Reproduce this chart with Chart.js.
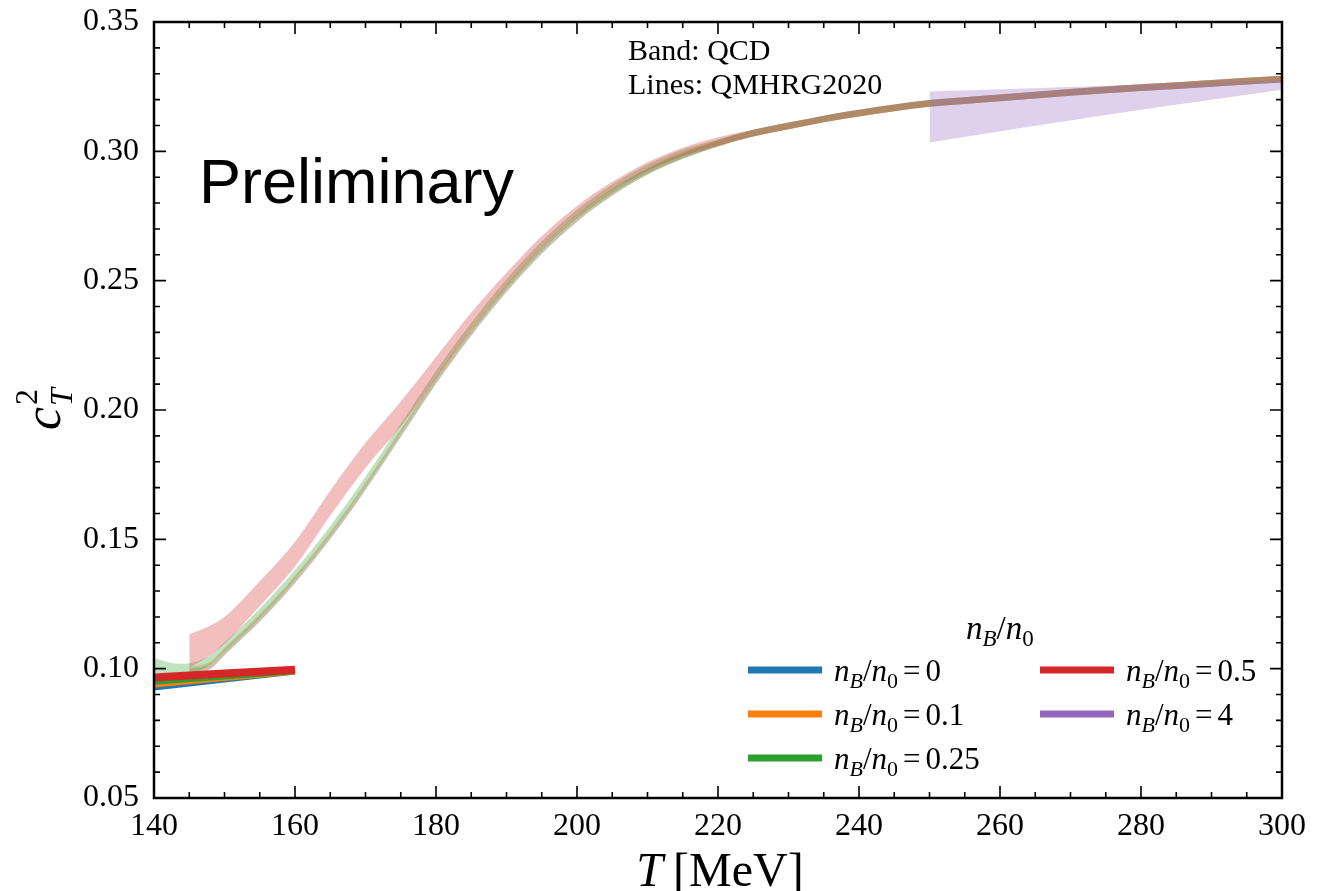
<!DOCTYPE html>
<html>
<head>
<meta charset="utf-8">
<script src="https://cdn.jsdelivr.net/npm/chart.js@4/dist/chart.umd.min.js"></script>
<style>
  html, body { margin: 0; padding: 0; background: #fff; }
  #wrap { width: 1326px; height: 891px; }
</style>
</head>
<body>
<div id="wrap"><canvas id="grafico" width="1326" height="891"></canvas></div>
<script>
// Bandas QCD (limite inferior / superior) e linhas QMHRG2020
const T_GREEN = [140, 142, 144, 146, 148, 150, 155, 160, 165, 170, 175, 180, 185, 190, 195, 200, 205, 210, 215, 220, 225, 230, 235, 240, 245, 250, 260, 270, 280, 290, 300];
const GREEN_LO = [0.0985, 0.0975, 0.0975, 0.0987, 0.1017, 0.1068, 0.1198, 0.1348, 0.1518, 0.1708, 0.1913, 0.2118, 0.2303, 0.2471, 0.2618, 0.2740, 0.2838, 0.2915, 0.2973, 0.3020, 0.3057, 0.3085, 0.3112, 0.3135, 0.3155, 0.3172, 0.3194, 0.3215, 0.3233, 0.3250, 0.3266];
const GREEN_HI = [0.1041, 0.1025, 0.1019, 0.1027, 0.1053, 0.1102, 0.1232, 0.1382, 0.1552, 0.1742, 0.1947, 0.2152, 0.2337, 0.2505, 0.2652, 0.2774, 0.2872, 0.2949, 0.3007, 0.3046, 0.3083, 0.3111, 0.3138, 0.3161, 0.3181, 0.3198, 0.3220, 0.3241, 0.3259, 0.3276, 0.3292];

const T_REST = [145, 148, 150, 155, 160, 165, 170, 175, 180, 185, 190, 195, 200, 205, 210, 215, 220, 225, 230, 235, 240, 245, 250, 260, 270, 280, 290, 300];
const BLUE_LO = [0.0977, 0.0998, 0.1051, 0.1181, 0.1330, 0.1500, 0.1690, 0.1895, 0.2100, 0.2286, 0.2455, 0.2603, 0.2727, 0.2828, 0.2909, 0.2971, 0.3019, 0.3057, 0.3085, 0.3112, 0.3135, 0.3155, 0.3172, 0.3194, 0.3215, 0.3233, 0.3250, 0.3266];
const BLUE_HI = [0.0999, 0.1020, 0.1073, 0.1203, 0.1352, 0.1522, 0.1712, 0.1917, 0.2122, 0.2308, 0.2477, 0.2625, 0.2749, 0.2850, 0.2931, 0.2993, 0.3041, 0.3083, 0.3111, 0.3138, 0.3161, 0.3181, 0.3198, 0.3220, 0.3241, 0.3259, 0.3276, 0.3292];
const ORANGE_LO = [0.0980, 0.1002, 0.1055, 0.1185, 0.1334, 0.1504, 0.1694, 0.1899, 0.2104, 0.2290, 0.2459, 0.2607, 0.2730, 0.2830, 0.2910, 0.2971, 0.3018, 0.3057, 0.3085, 0.3112, 0.3135, 0.3155, 0.3172, 0.3194, 0.3215, 0.3233, 0.3250, 0.3266];
const ORANGE_HI = [0.1006, 0.1028, 0.1081, 0.1211, 0.1360, 0.1530, 0.1720, 0.1925, 0.2130, 0.2316, 0.2485, 0.2633, 0.2756, 0.2856, 0.2936, 0.2997, 0.3044, 0.3083, 0.3111, 0.3138, 0.3161, 0.3181, 0.3198, 0.3220, 0.3241, 0.3259, 0.3276, 0.3292];
const RED_LO = [0.1003, 0.1053, 0.1096, 0.1242, 0.1395, 0.1592, 0.1777, 0.1937, 0.2125, 0.2313, 0.2479, 0.2628, 0.2751, 0.2850, 0.2926, 0.2982, 0.3022, 0.3057, 0.3085, 0.3112, 0.3135, 0.3155, 0.3172, 0.3194, 0.3215, 0.3233, 0.3250, 0.3266];
const RED_HI = [0.1133, 0.1167, 0.1200, 0.1338, 0.1491, 0.1688, 0.1873, 0.2033, 0.2205, 0.2377, 0.2531, 0.2672, 0.2789, 0.2882, 0.2958, 0.3014, 0.3054, 0.3083, 0.3111, 0.3138, 0.3161, 0.3181, 0.3198, 0.3220, 0.3241, 0.3259, 0.3276, 0.3292];

const T_PURPLE = [250, 275, 300];
const PURPLE_LO = [0.3034, 0.3140, 0.3238];
const PURPLE_HI = [0.3231, 0.3254, 0.3277];

const T_LINE = [140, 150, 160];
const LINE_BLUE = [0.0925, 0.0956, 0.0987];
const LINE_ORANGE = [0.0937, 0.0962, 0.0987];
const LINE_GREEN = [0.0947, 0.0968, 0.0988];
const LINE_RED = [0.0966, 0.0981, 0.0996];

const X_TICKS = [140, 160, 180, 200, 220, 240, 260, 280, 300];
const Y_TICKS = [0.05, 0.10, 0.15, 0.20, 0.25, 0.30, 0.35];
const LEGEND_VALUES = ['0', '0.1', '0.25', '0.5', '4'];

const COR = {
  blue: '#1f77b4', orange: '#ff7f0e', green: '#2ca02c', red: '#d62728', purple: '#9467bd'
};
const SERIF = '"Liberation Serif", "DejaVu Serif", serif';

const pts = (xs, ys) => xs.map((x, i) => ({ x, y: ys[i] }));
const rgba = (hex, a) => {
  const n = parseInt(hex.slice(1), 16);
  return `rgba(${n >> 16},${(n >> 8) & 255},${n & 255},${a})`;
};

function banda(xs, lo, hi, cor) {
  const base = { pointRadius: 0, borderWidth: 0, cubicInterpolationMode: 'monotone', order: 1 };
  return [
    { ...base, data: pts(xs, lo), fill: false },
    { ...base, data: pts(xs, hi), fill: '-1', backgroundColor: rgba(cor, 0.3) }
  ];
}

function linha(ys, cor, largura) {
  return {
    data: pts(T_LINE, ys), borderColor: cor, borderWidth: largura, pointRadius: 0,
    fill: false, order: 0, borderCapStyle: 'butt', tension: 0
  };
}

// texto com indices (subscrito / sobrescrito)
function textoRico(ctx, x, y, partes) {
  let cx = x;
  partes.forEach(p => {
    ctx.font = p.f;
    ctx.fillText(p.t, cx, y + (p.dy || 0));
    cx += ctx.measureText(p.t).width + (p.gap || 0);
  });
  return cx;
}

function partesNB(tam, valor) {
  const sub = Math.round(tam * 0.7);
  const partes = [
    { t: 'n', f: `italic ${tam}px ${SERIF}` }, { t: 'B', f: `italic ${sub}px ${SERIF}`, dy: 7 },
    { t: '/', f: `${tam}px ${SERIF}` },
    { t: 'n', f: `italic ${tam}px ${SERIF}` }, { t: '0', f: `${sub}px ${SERIF}`, dy: 7, gap: 5 }
  ];
  if (valor !== null) partes.push({ t: '=', f: `${tam}px ${SERIF}`, gap: 5 }, { t: valor, f: `${tam}px ${SERIF}` });
  return partes;
}

const moldura = {
  id: 'moldura',
  afterDatasetsDraw(chart) {
    const { ctx, chartArea: a, scales: { x, y } } = chart;
    ctx.save();
    ctx.strokeStyle = '#000';
    ctx.lineWidth = 1.6;
    ctx.beginPath();
    for (let t = 140; t <= 300; t += 5) {
      const px = x.getPixelForValue(t);
      const len = t % 20 === 0 ? 12 : 6;
      ctx.moveTo(px, a.bottom); ctx.lineTo(px, a.bottom - len);
      ctx.moveTo(px, a.top); ctx.lineTo(px, a.top + len);
    }
    for (let k = 5; k <= 35; k++) {
      const py = y.getPixelForValue(k / 100);
      const len = k % 5 === 0 ? 12 : 6;
      ctx.moveTo(a.left, py); ctx.lineTo(a.left + len, py);
      ctx.moveTo(a.right, py); ctx.lineTo(a.right - len, py);
    }
    ctx.stroke();
    ctx.lineWidth = 2.5;
    ctx.strokeRect(a.left, a.top, a.right - a.left, a.bottom - a.top);
    ctx.restore();
  },
  afterDraw(chart) {
    const { ctx } = chart;
    ctx.save();
    ctx.fillStyle = '#000';
    ctx.textBaseline = 'alphabetic';
    ctx.textAlign = 'left';

    ctx.font = '63px "Liberation Sans", Arial, sans-serif';
    ctx.fillText('Preliminary', 199, 203);

    ctx.font = `30px ${SERIF}`;
    ctx.fillText('Band: QCD', 628, 60);
    ctx.fillText('Lines: QMHRG2020', 628, 94);

    // titulo do eixo x
    const tituloX = [{ t: 'T', f: `italic 48px ${SERIF}`, gap: 10 }, { t: '[MeV]', f: `48px ${SERIF}` }];
    const largX = textoRico(ctx, 0, -1000, tituloX);
    textoRico(ctx, 720 - largX / 2, 886, tituloX);

    // titulo do eixo y
    ctx.save();
    ctx.translate(60, 410);
    ctx.rotate(-Math.PI / 2);
    ctx.font = `italic 52px ${SERIF}`;
    ctx.fillText('c', -20, 0);
    ctx.font = `italic 32px ${SERIF}`;
    ctx.fillText('T', 4, 12);
    ctx.font = `32px ${SERIF}`;
    ctx.fillText('2', 5, -23);
    ctx.restore();

    // legenda
    textoRico(ctx, 966, 639, partesNB(33, null));
    const entradas = [
      { cor: COR.blue, col: 0, lin: 0 }, { cor: COR.orange, col: 0, lin: 1 }, { cor: COR.green, col: 0, lin: 2 },
      { cor: COR.red, col: 1, lin: 0 }, { cor: COR.purple, col: 1, lin: 1 }
    ];
    entradas.forEach((e, i) => {
      const x0 = e.col === 0 ? 748 : 1040;
      const yl = 670 + e.lin * 44;
      ctx.fillStyle = e.cor;
      ctx.fillRect(x0, yl - 3.5, 74, 7);
      ctx.fillStyle = '#000';
      textoRico(ctx, x0 + 86, yl + 11, partesNB(31, LEGEND_VALUES[i]));
    });
    ctx.restore();
  }
};

const datasets = [
  linha(LINE_RED, COR.red, 8),
  linha(LINE_GREEN, COR.green, 5),
  linha(LINE_ORANGE, COR.orange, 5),
  linha(LINE_BLUE, COR.blue, 5),
  ...banda(T_PURPLE, PURPLE_LO, PURPLE_HI, COR.purple),
  ...banda(T_REST, RED_LO, RED_HI, COR.red),
  ...banda(T_GREEN, GREEN_LO, GREEN_HI, COR.green),
  ...banda(T_REST, ORANGE_LO, ORANGE_HI, COR.orange),
  ...banda(T_REST, BLUE_LO, BLUE_HI, COR.blue)
];

new Chart(document.getElementById('grafico'), {
  type: 'line',
  data: { datasets },
  options: {
    responsive: false,
    animation: false,
    events: [],
    layout: { padding: { left: 0, top: 22, right: 44, bottom: 0 } },
    plugins: { legend: { display: false }, tooltip: { enabled: false } },
    scales: {
      x: {
        type: 'linear', min: 140, max: 300,
        afterBuildTicks: s => { s.ticks = X_TICKS.map(v => ({ value: v })); },
        afterFit: s => { s.height = 93; s.paddingLeft = 0; s.paddingRight = 0; },
        grid: { display: false }, border: { display: false },
        ticks: { color: '#000', font: { family: SERIF, size: 32 }, padding: 1, maxRotation: 0, autoSkip: false }
      },
      y: {
        type: 'linear', min: 0.05, max: 0.35,
        afterBuildTicks: s => { s.ticks = Y_TICKS.map(v => ({ value: v })); },
        afterFit: s => { s.width = 154; s.paddingTop = 0; s.paddingBottom = 0; },
        grid: { display: false }, border: { display: false },
        ticks: {
          color: '#000', font: { family: SERIF, size: 32 }, padding: 7, autoSkip: false,
          callback: v => v.toFixed(2)
        }
      }
    }
  },
  plugins: [moldura]
});
</script>
</body>
</html>
